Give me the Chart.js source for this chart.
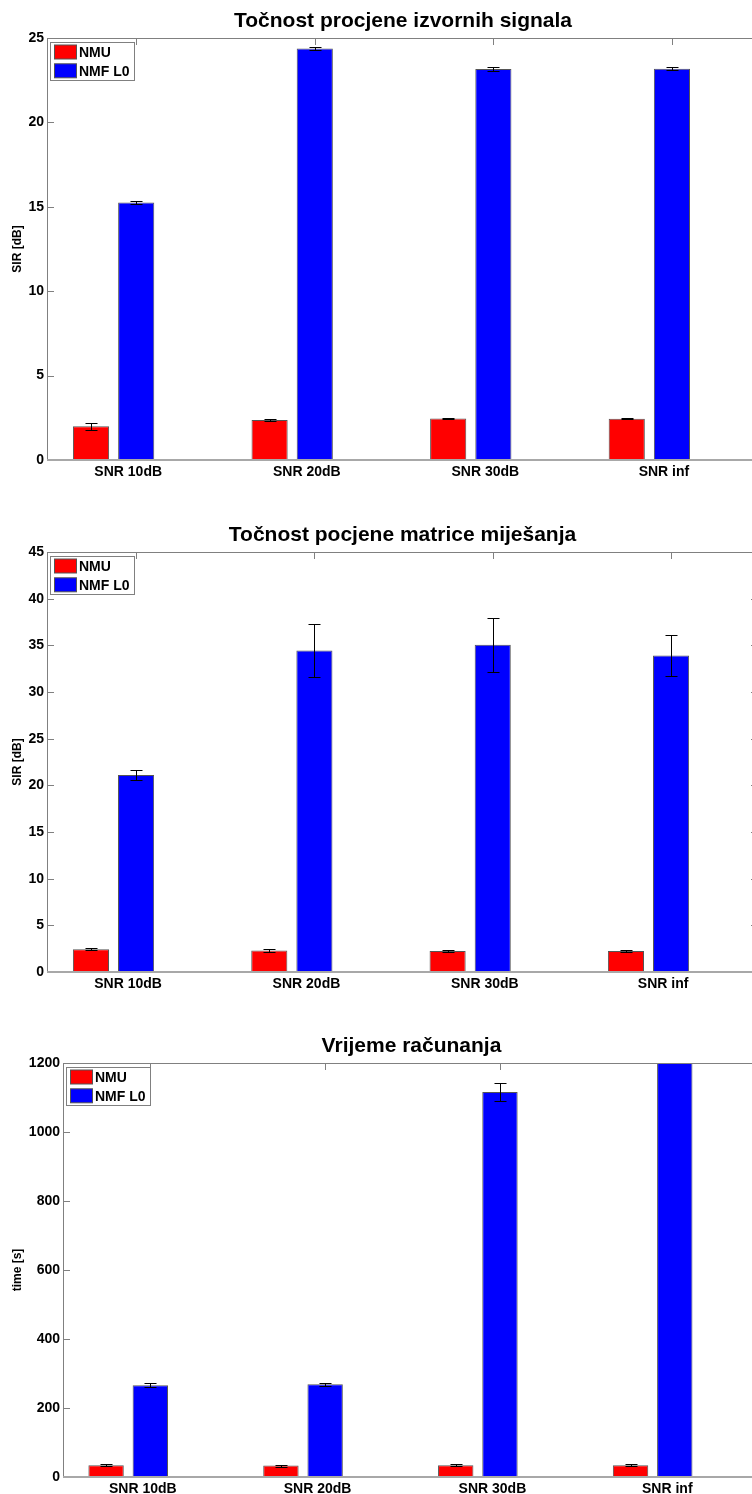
<!DOCTYPE html>
<html>
<head>
<meta charset="utf-8">
<script src="https://cdn.jsdelivr.net/npm/chart.js@4/dist/chart.umd.min.js"></script>
<style>
  html, body { margin: 0; padding: 0; background: #fff; overflow: hidden; width: 752px; height: 1494px; }
  canvas { position: absolute; left: 0; }
</style>
</head>
<body>
<canvas id="c1" width="800" height="490" style="top:0px"></canvas>
<canvas id="c2" width="800" height="502" style="top:500px"></canvas>
<canvas id="c3" width="800" height="497" style="top:1010px"></canvas>
<script>
// ---- data ----
const categories = ['SNR 10dB', 'SNR 20dB', 'SNR 30dB', 'SNR inf'];
const seriesNames = ['NMU', 'NMF L0'];

// SIR of the recovered source signals [dB]
const sourceNMU    = [2.00, 2.37, 2.46, 2.45];
const sourceNMUErr = [0.22, 0.05, 0.04, 0.04];
const sourceNMF    = [15.25, 24.38, 23.16, 23.18];
const sourceNMFErr = [0.10, 0.10, 0.12, 0.10];

// SIR of the estimated mixing matrix [dB]
const mixNMU    = [2.45, 2.31, 2.25, 2.25];
const mixNMUErr = [0.12, 0.12, 0.15, 0.12];
const mixNMF    = [21.10, 34.45, 35.05, 33.90];
const mixNMFErr = [0.55, 2.80, 2.87, 2.17];

// computation time [s]
const timeNMU    = [34, 33, 34, 34];
const timeNMUErr = [3, 3, 3, 3];
const timeNMF    = [266, 269, 1116, 1290];
const timeNMFErr = [6, 4, 25, 30];

const chartTitles = ['Točnost procjene izvornih signala', 'Točnost pocjene matrice miješanja', 'Vrijeme računanja'];
const yTitles = ['SIR [dB]', 'SIR [dB]', 'time [s]'];
const yMax  = [25, 45, 1200];
const yStep = [5, 5, 200];

// ---- drawing ----
const FONT = '"Liberation Sans", Arial, Helvetica, sans-serif';
Chart.defaults.font.family = FONT;
Chart.defaults.color = '#000';

const toPoints = vals => vals.map((v, i) => ({ x: i + 1, y: v }));

// MATLAB-like axes frame: inward ticks, error bars, box, legend and title
const frame = {
  id: 'frame',
  beforeDatasetsDraw(chart) {
    const { ctx, chartArea: a, scales: { y } } = chart;
    ctx.save();
    ctx.strokeStyle = '#808080';
    ctx.lineWidth = 1;
    ctx.beginPath();
    y.ticks.forEach(t => {
      const py = Math.round(y.getPixelForValue(t.value)) + 0.5;
      ctx.moveTo(a.left, py);  ctx.lineTo(a.left + 7, py);
      ctx.moveTo(a.right, py); ctx.lineTo(a.right - 7, py);
    });
    chart.getDatasetMeta(1).data.forEach(b => {
      const px = Math.round(b.x) + 0.5;
      ctx.moveTo(px, a.top);    ctx.lineTo(px, a.top + 7);
      ctx.moveTo(px, a.bottom); ctx.lineTo(px, a.bottom - 7);
    });
    ctx.stroke();
    ctx.restore();
  },
  afterDatasetsDraw(chart) {
    const { ctx, chartArea: a, scales: { y } } = chart;
    // error bars
    ctx.save();
    ctx.beginPath();
    ctx.rect(a.left, a.top, a.right - a.left, a.bottom - a.top);
    ctx.clip();
    ctx.strokeStyle = '#000';
    ctx.lineWidth = 1;
    chart.data.datasets.forEach((ds, di) => {
      chart.getDatasetMeta(di).data.forEach((bar, i) => {
        const v = ds.data[i].y, e = ds.errors[i];
        const x = Math.round(bar.x) + 0.5;
        const yt = Math.round(y.getPixelForValue(v + e)) + 0.5;
        const yb = Math.round(y.getPixelForValue(v - e)) + 0.5;
        ctx.beginPath();
        ctx.moveTo(x, yt); ctx.lineTo(x, yb);
        ctx.moveTo(x - 6, yt); ctx.lineTo(x + 6, yt);
        ctx.moveTo(x - 6, yb); ctx.lineTo(x + 6, yb);
        ctx.stroke();
      });
    });
    ctx.restore();
    // axes box
    ctx.save();
    ctx.strokeStyle = '#808080';
    ctx.lineWidth = 1;
    ctx.strokeRect(a.left + 0.5, a.top + 0.5, a.right - a.left - 1, a.bottom - a.top - 1);
    ctx.strokeStyle = '#a8a8a8';
    ctx.lineWidth = 2;
    ctx.beginPath();
    ctx.moveTo(a.left, a.bottom);
    ctx.lineTo(a.right, a.bottom);
    ctx.stroke();
    ctx.restore();
  },
  afterDraw(chart, args, opts) {
    const { ctx, chartArea: a } = chart;
    ctx.save();
    // title
    ctx.fillStyle = '#000';
    ctx.font = 'bold 21px ' + FONT;
    ctx.textAlign = 'center';
    ctx.textBaseline = 'alphabetic';
    ctx.fillText(opts.title, (a.left + a.right) / 2, a.top - 11);
    // legend
    const bx = a.left + 3.5, by = a.top + 4.5;
    ctx.fillStyle = '#fff';
    ctx.fillRect(bx, by, 84, 38);
    ctx.strokeStyle = '#808080';
    ctx.lineWidth = 1;
    ctx.strokeRect(bx, by, 84, 38);
    ctx.font = 'bold 14px ' + FONT;
    ctx.textAlign = 'left';
    ctx.textBaseline = 'middle';
    chart.data.datasets.forEach((ds, i) => {
      const cy = a.top + 14 + i * 18.8;
      ctx.fillStyle = ds.backgroundColor;
      ctx.fillRect(a.left + 7.5, cy - 7, 22, 14);
      ctx.strokeStyle = '#555';
      ctx.strokeRect(a.left + 7.5, cy - 7, 22, 14);
      ctx.fillStyle = '#000';
      ctx.fillText(ds.label, a.left + 32, cy + 1);
    });
    ctx.restore();
  }
};

function makeChart(id, k, nmu, nmuErr, nmf, nmfErr, layout) {
  const barStyle = { borderColor: '#555', borderWidth: 1, borderSkipped: false, categoryPercentage: 0.506, barPercentage: 0.8, clip: 0 };
  return new Chart(document.getElementById(id), {
    type: 'bar',
    data: {
      datasets: [
        Object.assign({ label: seriesNames[0], data: toPoints(nmu), errors: nmuErr, backgroundColor: '#ff0000' }, barStyle),
        Object.assign({ label: seriesNames[1], data: toPoints(nmf), errors: nmfErr, backgroundColor: '#0000ff' }, barStyle)
      ]
    },
    options: {
      responsive: false,
      animation: false,
      devicePixelRatio: 1,
      layout: { padding: { top: layout.top, right: 800 - layout.right, left: 0, bottom: 0 } },
      plugins: {
        legend: { display: false },
        tooltip: { enabled: false },
        frame: { title: chartTitles[k] }
      },
      scales: {
        x: {
          type: 'linear',
          offset: false,
          min: 0.627,
          max: 4.614,
          grid: { display: false, drawTicks: false },
          border: { display: false },
          afterBuildTicks: s => { s.ticks = categories.map((c, i) => ({ value: i + 1 })); },
          afterFit: s => { s.height = 30; },
          ticks: {
            autoSkip: false, maxRotation: 0, minRotation: 0,
            labelOffset: 14.6, padding: 4, color: '#000',
            font: { size: 14, weight: 'bold' },
            callback: (v, i) => categories[i]
          }
        },
        y: {
          min: 0,
          max: yMax[k],
          grid: { display: false, drawTicks: false },
          border: { display: false },
          afterFit: s => { s.width = layout.left; },
          ticks: {
            stepSize: yStep[k], padding: 3, color: '#000',
            font: { size: 14, weight: 'bold' },
            callback: v => String(v)
          },
          title: { display: true, text: yTitles[k], color: '#000', font: { size: 12, weight: 'bold' }, padding: { top: 10, bottom: 0 } }
        }
      }
    },
    plugins: [frame]
  });
}

makeChart('c1', 0, sourceNMU, sourceNMUErr, sourceNMF, sourceNMFErr, { top: 38, left: 47, right: 759 });
makeChart('c2', 1, mixNMU, mixNMUErr, mixNMF, mixNMFErr, { top: 52, left: 47, right: 758 });
makeChart('c3', 2, timeNMU, timeNMUErr, timeNMF, timeNMFErr, { top: 53, left: 63, right: 760 });
</script>
</body>
</html>
